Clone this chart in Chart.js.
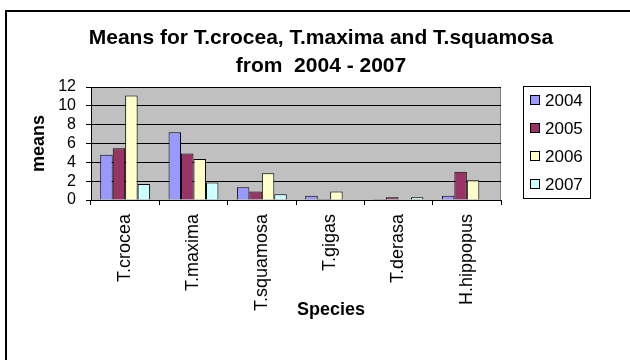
<!DOCTYPE html>
<html>
<head>
<meta charset="utf-8">
<script src="https://cdn.jsdelivr.net/npm/chart.js@4.4.1/dist/chart.umd.min.js"></script>
<style>
  html, body { margin: 0; padding: 0; background: #fff; }
  #wrap { width: 630px; height: 360px; position: relative; }
</style>
</head>
<body>
<div id="wrap"><canvas id="c"></canvas></div>
<script>
// Giant clam species and yearly mean counts
const species = ['T.crocea', 'T.maxima', 'T.squamosa', 'T.gigas', 'T.derasa', 'H.hippopus'];
const years = ['2004', '2005', '2006', '2007'];
const means2004 = [4.8, 7.2, 1.35, 0.45, 0.1, 0.45];
const means2005 = [5.5, 4.95, 0.9, 0.1, 0.3, 3.0];
const means2006 = [11.1, 4.35, 2.85, 0.9, 0, 2.1];
const means2007 = [1.7, 1.85, 0.6, 0, 0.3, 0];
const yTicks = [0, 2, 4, 6, 8, 10, 12];

const titleLines = ['Means for T.crocea, T.maxima and T.squamosa', 'from  2004 - 2007'];
const xTitle = 'Species';
const yTitle = 'means';

const FONT = '"Liberation Sans", Arial, Helvetica, sans-serif';
Chart.defaults.font.family = FONT;
Chart.defaults.color = '#000';

const seriesValues = [means2004, means2005, means2006, means2007];
const seriesColors = ['#9999ff', '#993366', '#ffffcc', '#ccffff'];

// Frame, plot background, headings and the boxed legend
const decor = {
  id: 'decor',
  beforeDraw(chart) {
    const { ctx, chartArea: a } = chart;
    ctx.save();
    ctx.fillStyle = '#fff';
    ctx.fillRect(0, 0, chart.width, chart.height);
    ctx.strokeStyle = '#000';
    ctx.lineWidth = 2;
    ctx.strokeRect(6, 11, chart.width + 20, chart.height + 20);
    ctx.fillStyle = '#c0c0c0';
    ctx.fillRect(a.left, a.top, a.right - a.left, a.bottom - a.top);
    ctx.strokeStyle = '#808080';
    ctx.lineWidth = 1;
    ctx.strokeRect(a.left + 0.5, a.top + 0.5, a.right - a.left - 1, a.bottom - a.top);
    ctx.restore();
  },
  afterDraw(chart) {
    const { ctx, chartArea: a } = chart;
    ctx.save();
    ctx.fillStyle = '#000';
    ctx.textAlign = 'center';
    ctx.textBaseline = 'middle';
    ctx.font = 'bold 21px ' + FONT;
    titleLines.forEach((t, i) => ctx.fillText(t, 321, 38 + i * 28));
    ctx.font = 'bold 18px ' + FONT;
    ctx.fillText(xTitle, 331, 310);

    // legend
    const lx = a.right + 22, ly = a.top - 1, lw = 67, lh = 112;
    ctx.fillStyle = '#fff';
    ctx.fillRect(lx, ly, lw, lh);
    ctx.strokeStyle = '#000';
    ctx.lineWidth = 1;
    ctx.strokeRect(lx + 0.5, ly + 0.5, lw, lh);
    ctx.font = '17px ' + FONT;
    ctx.textAlign = 'left';
    chart.data.datasets.forEach((ds, i) => {
      const cy = ly + 14 + i * 28;
      ctx.fillStyle = ds.backgroundColor;
      ctx.fillRect(lx + 7.5, cy - 4.5, 9, 9);
      ctx.strokeStyle = '#000';
      ctx.strokeRect(lx + 7.5, cy - 4.5, 9, 9);
      ctx.fillStyle = '#000';
      ctx.fillText(ds.label, lx + 22, cy + 1);
    });
    ctx.restore();
  }
};

new Chart(document.getElementById('c'), {
  type: 'bar',
  data: {
    labels: species,
    datasets: years.map((y, i) => ({
      label: y,
      data: seriesValues[i],
      backgroundColor: seriesColors[i],
      borderColor: '#000',
      borderWidth: 1,
      barPercentage: 1,
      categoryPercentage: 0.73
    }))
  },
  options: {
    responsive: true,
    maintainAspectRatio: false,
    animation: false,
    events: [],
    layout: { padding: { top: 87, right: 129, bottom: 40, left: 0 } },
    plugins: {
      legend: { display: false },
      title: { display: false },
      tooltip: { enabled: false }
    },
    scales: {
      x: {
        offset: true,
        grid: { display: true, drawOnChartArea: false, drawTicks: true, tickLength: 5, color: '#000', offset: true },
        border: { display: true, color: '#000', width: 1 },
        ticks: { autoSkip: false, minRotation: 90, maxRotation: 90, padding: 9, font: { size: 18 }, color: '#000' },
        afterFit: s => { s.height = 120; }
      },
      y: {
        min: 0,
        max: 12,
        afterBuildTicks: s => { s.ticks = yTicks.map(v => ({ value: v })); },
        grid: { color: '#000', lineWidth: 1, drawTicks: true, tickLength: 5, tickColor: '#000' },
        border: { display: true, color: '#000', width: 1 },
        ticks: { autoSkip: false, padding: 10, font: { size: 16, lineHeight: 1 }, color: '#000' },
        title: { display: true, text: yTitle, font: { size: 18, weight: 'bold' }, color: '#000', padding: { top: 28, bottom: 0 } },
        afterFit: s => { s.width = 91; }
      }
    }
  },
  plugins: [decor]
});
</script>
</body>
</html>
